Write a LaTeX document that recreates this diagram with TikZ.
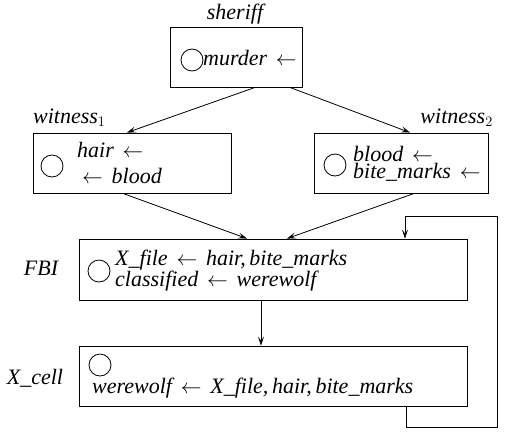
\documentclass[tikz,border=0pt]{standalone}
\usepackage{fontspec}
\setmainfont{Liberation Serif}
\usetikzlibrary{arrows.meta}

\newcommand{\lar}{\hspace{0.4em}$\leftarrow$\hspace{0.4em}}

\tikzset{
  box/.style={draw, line width=0.9pt, inner sep=0pt},
  dot/.style={draw, circle, line width=0.8pt, minimum size=22pt, inner sep=0pt},
  rule/.style={inner sep=0pt, anchor=west, align=left},
  tag/.style={inner sep=0pt},
  conn/.style={line width=0.8pt, -{Stealth[length=9pt,width=6pt,inset=4pt]}},
}

\begin{document}
\begin{tikzpicture}[x=1pt,y=-1pt,font=\fontsize{22}{26}\selectfont\itshape]

\useasboundingbox (0,0) rectangle (506,432);

% agents
\node[box, minimum width=132pt, minimum height=60pt] (sheriff) at (236,57) {};
\node[box, minimum width=198pt, minimum height=60pt] (witness1) at (132,163) {};
\node[box, minimum width=174pt, minimum height=60pt] (witness2) at (401,163) {};
\node[box, minimum width=388pt, minimum height=61pt] (fbi) at (273,269.5) {};
\node[box, minimum width=388pt, minimum height=60pt] (xcell) at (273,376) {};

% names
\node[tag] (sheriffname) at (235,14) {sheriff};
\node[tag, anchor=west] (witness1name) at (33,118) {witness$_1$};
\node[tag, anchor=east] (witness2name) at (493,118) {witness$_2$};
\node[tag] (fbiname) at (41,268) {FBI};
\node[tag] (xcellname) at (35,378) {X\_cell};

% states
\node[dot] (sheriffdot) at (192,60) {};
\node[dot] (witness1dot) at (52,166) {};
\node[dot] (witness2dot) at (335,165) {};
\node[dot] (fbidot) at (99,271) {};
\node[dot] (xcelldot) at (100,365) {};

% rules
\node[rule] (sheriffrule) at (203,58) {murder\lar};
\node[rule, font=\fontsize{22}{26}\selectfont\itshape] (witness1rule) at (77,163)
  {hair\lar\\\hspace*{5pt}$\leftarrow$\hspace{0.4em}blood};
\node[rule, font=\fontsize{22}{13}\selectfont\itshape] (witness2rule) at (353,164)
  {blood\lar\\bite\_marks\lar};
\node[rule, font=\fontsize{22}{16}\selectfont\itshape] (fbirule) at (115,270.5)
  {X\_file\lar hair,\,bite\_marks\\classified\lar werewolf};
\node[rule] (xcellrule) at (92,388) {werewolf\lar X\_file,\,hair,\,bite\_marks};

% messages
\draw[conn] ([xshift=19]sheriff.south) -- ([xshift=-5]witness1.north);
\draw[conn] ([xshift=54]sheriff.south) -- ([xshift=9]witness2.north);
\draw[conn] ([xshift=-9]witness1.south) -- ([xshift=-26]fbi.north);
\draw[conn] ([xshift=13]witness2.south) -- ([xshift=14]fbi.north);
\draw[conn] ([xshift=-12]fbi.south) -- ([xshift=-12]xcell.north);

\coordinate (turn) at (497,216);
\draw[conn] ([xshift=133]xcell.south) -- ++(0,21) -| (turn) -| ([xshift=132]fbi.north);

\end{tikzpicture}
\end{document}
